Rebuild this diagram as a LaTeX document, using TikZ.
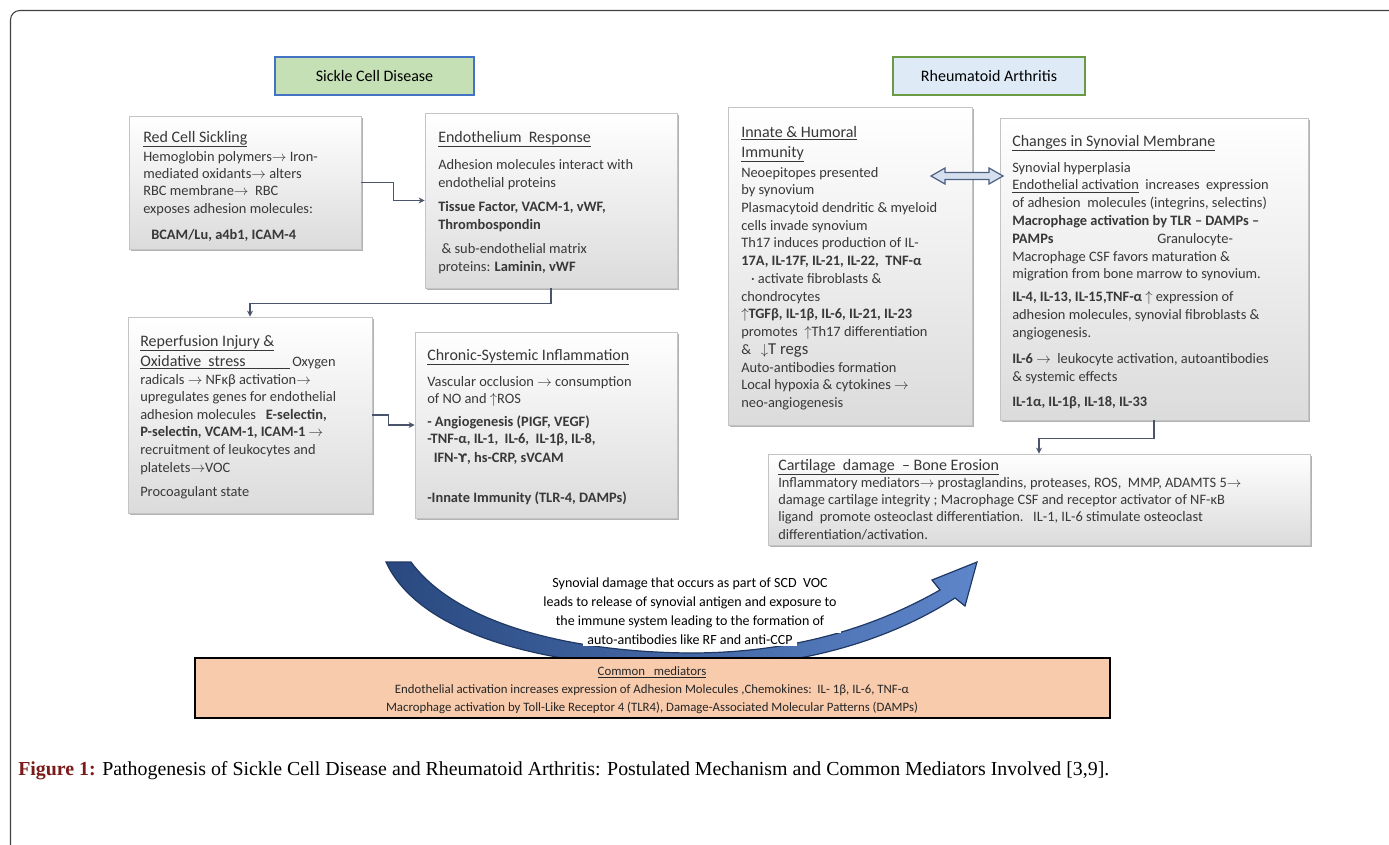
\documentclass[tikz,border=0pt]{standalone}
\usepackage{fontspec}
\setmainfont{Carlito}
\newfontfamily\capfont{Liberation Serif}
\newfontfamily\dejavu{DejaVu Sans}
\usetikzlibrary{fit,shadows,arrows.meta}
\definecolor{txt}{HTML}{383838}
\definecolor{boxline}{HTML}{C4C4C4}
\definecolor{conncol}{HTML}{4A556B}
\definecolor{greenfill}{HTML}{C5E0B4}
\definecolor{bluefill}{HTML}{DEEBF7}
\definecolor{blueline}{HTML}{4472C4}
\definecolor{greenline}{HTML}{6A9A44}
\definecolor{peach}{HTML}{F8CBAD}
\definecolor{arrowblue}{HTML}{4170C0}
\definecolor{arrowdark}{HTML}{1F3864}
\definecolor{dblfill}{HTML}{D6DFEE}
\definecolor{figred}{HTML}{7A1A1A}
\newcommand\bodyf{\fontsize{10.8pt}{13.2pt}\selectfont}
\newcommand\headf{\fontsize{12pt}{15pt}\selectfont}
\newcommand\ua{$\uparrow$}
\newcommand\da{$\downarrow$}
\newcommand\ra{$\rightarrow$}
\newcommand\lines[1]{\begin{tabular}[t]{@{}l@{}}#1\end{tabular}}
\newcommand\clines[1]{\begin{tabular}[t]{@{}c@{}}#1\end{tabular}}
\begin{document}
\begin{tikzpicture}[x=0.75pt,y=-0.75pt,
  box/.style={draw=boxline, line width=0.6pt, top color=white, bottom color=black!14,
    drop shadow={shadow xshift=1.8pt, shadow yshift=-1.8pt, fill=black!55, opacity=0.55},
    inner sep=0pt},
  tx/.style={anchor=base west, inner sep=0pt, text=txt, font=\bodyf},
  hd/.style={anchor=base west, inner sep=0pt, text=txt, font=\headf},
  conn/.style={draw=conncol, line width=0.8pt, -{Stealth[length=4.5pt,width=4.5pt]}},
  titlebox/.style={line width=1.3pt, inner sep=0pt, minimum height=28.5pt, font=\fontsize{12pt}{14pt}\selectfont, text=black}
]
\useasboundingbox (0,0) rectangle (1389,844);
\draw[black!75, line width=0.8pt, rounded corners=7pt] (10.5,10.5) rectangle (1410,870);

% title boxes
\node[titlebox, draw=blueline, fill=greenfill, minimum width=149.25pt] (sct) at (374.5,76) {Sickle Cell Disease};
\node[titlebox, draw=greenline, fill=bluefill, minimum width=144pt] (rat) at (989,76) {Rheumatoid Arthritis};

% boxes
\node[box, fit={(129,116) (361,249)}] (rcs) {};
\node[box, fit={(425,113) (677,288)}] (endo) {};
\node[box, fit={(128,317) (372,513)}] (rep) {};
\node[box, fit={(415,332) (677,518)}] (chr) {};
\node[box, fit={(728,107) (972,425)}] (inn) {};
\node[box, fit={(1000,118) (1308,420)}] (chg) {};
\node[box, fit={(768,454) (1310,545)}] (cart) {};

% connectors
\draw[conn] (rcs.east) -- ++(32,0) |- (endo.west);
\draw[conn] (endo.south) -- ++(0,15) -| (rep.north);
\draw[conn] (rep.east) -- ++(16,0) |- (chr.west);
\draw[conn] (chg.south) -- ++(0,18) -| (cart.north);

% double block arrow
\draw[draw=arrowdark!80, fill=dblfill, line width=0.9pt, line join=miter]
  (931,176) -- (945,168) -- (945,172.5) -- (989,172.5) -- (989,168) -- (1003,176)
  -- (989,184) -- (989,179.5) -- (945,179.5) -- (945,184) -- cycle;

% Red cell sickling
\node[hd] (rcsh) at (143,142) {\underline{Red Cell Sickling}};
\node[tx, font=\fontsize{10.8pt}{13pt}\selectfont] (rcsb) at (143,161) {\lines{Hemoglobin polymers\ra\ Iron-\\
mediated oxidants\ra\ alters\\
RBC membrane\ra\ \ RBC\\
exposes adhesion molecules:\\[6.5pt]
\hspace*{6pt}\textbf{BCAM/Lu, a4b1, ICAM-4}}};

% Endothelium response
\node[hd] (endoh) at (438,142) {\underline{Endothelium\ \ Response}};
\node[tx, font=\fontsize{10.8pt}{13.5pt}\selectfont] (endob) at (438,169) {\lines{Adhesion molecules interact with\\
endothelial proteins\\[4.5pt]
\textbf{Tissue Factor, VACM-1, vWF,}\\
\textbf{Thrombospondin}\\[4.5pt]
\ \& sub-endothelial matrix\\
proteins: \textbf{Laminin, vWF}}};

% Reperfusion
\node[hd] (reph) at (140,346) {\lines{\underline{Reperfusion Injury \&}\\
\underline{\makebox[112.5pt][l]{Oxidative\ \ stress}}}};
\node[tx] (repo) at (292,366) {Oxygen};
\node[tx] (repb) at (140,384) {\lines{radicals \ra\ NFκβ activation\ra\\
upregulates genes for endothelial\\
adhesion molecules\ \ \ \textbf{E-selectin,}\\
\textbf{P-selectin,\ VCAM-1, ICAM-1} \ra\\
recruitment of leukocytes and\\
platelets\ra VOC\\[4.8pt]
Procoagulant state}};

% Chronic systemic inflammation
\node[hd] (chrh) at (427,360) {\underline{Chronic-Systemic Inflammation}};
\node[tx, font=\fontsize{10.8pt}{12.8pt}\selectfont] (chrb) at (427,386) {\lines{Vascular occlusion \ra\ consumption\\
of NO and \ua ROS\\[4.5pt]
\textbf{- Angiogenesis\ (PIGF, VEGF)}\\
\textbf{-TNF-α, IL-1,\ \ IL-6,\ \ IL-1β, IL-8,}\\[2pt]
\textbf{\ \ IFN-{\dejavu\fontsize{9pt}{10pt}\selectfont ϒ}, hs-CRP, sVCAM}}};
\node[tx] (chri) at (427,502) {\textbf{-Innate Immunity (TLR-4, DAMPs)}};

% Innate & humoral
\node[hd] (innh) at (741,137) {\lines{\underline{Innate \& Humoral}\\
\underline{Immunity}}};
\node[tx, font=\fontsize{10.8pt}{13.3pt}\selectfont] (innb) at (741,177) {\lines{Neoepitopes presented\\
by synovium\\
Plasmacytoid dendritic \& myeloid\\
cells invade synovium\\
Th17 induces\ production of IL-\\
\textbf{17A, IL-17F, IL-21, IL-22,\ \ TNF-α}\\
\ \ \ · activate fibroblasts \&\\
chondrocytes\\
\textbf{\ua TGFβ, IL-1β, IL-6, IL-21, IL-23}\\
promotes\ \ \ua Th17 differentiation\\
\&\ \ \ \da{\fontsize{12.5pt}{13pt}\selectfont T regs}\\
Auto-antibodies formation\\
Local hypoxia \& cytokines \ra\\
neo-angiogenesis}};

% Changes in synovial membrane
\node[hd] (chgh) at (1012,146) {\underline{Changes\ in Synovial\ Membrane}};
\node[tx, font=\fontsize{10.8pt}{13.35pt}\selectfont] (chgb) at (1012,172) {\lines{Synovial hyperplasia\\
\underline{Endothelial activation}\ \ increases\ \ expression\\
of adhesion\ \ molecules (integrins, selectins)\\
\textbf{Macrophage activation by TLR – DAMPs –}\\
\makebox[108.75pt][l]{\textbf{PAMPs}}Granulocyte-\\
Macrophage CSF favors maturation \&\\
migration from bone marrow to synovium.\\[3.9pt]
\textbf{IL-4, IL-13, IL-15,TNF-α} \ua\ expression of\\
adhesion molecules, synovial fibroblasts \&\\
angiogenesis.\\[6pt]
\textbf{IL-6} \ra\ \ leukocyte activation, autoantibodies\\
\& systemic effects\\[6pt]
\textbf{IL-1α, IL-1β, IL-18, IL-33}}};

% Cartilage damage
\node[hd] (carth) at (778,470) {\underline{Cartilage\ \ damage\ \ – Bone Erosion}};
\node[tx, font=\fontsize{10.8pt}{13pt}\selectfont] (cartb) at (778,487) {\lines{Inflammatory mediators\ra\ prostaglandins, proteases, ROS,\ \ MMP, ADAMTS 5\ra\\
damage cartilage integrity ; Macrophage CSF and receptor activator of NF-κB\\
ligand\ \ promote osteoclast differentiation.\ \ \ IL-1, IL-6 stimulate osteoclast\\
differentiation/activation.}};

% curved arrow
\path[draw=arrowdark, line width=0.9pt, left color=arrowdark!70!arrowblue, right color=arrowblue!85!white, line join=miter]
  (386,562) -- (411,562)
  .. controls (455,622) and (565,652) .. (690,653)
  .. controls (800,653) and (880,624) .. (940,590)
  -- (932,580) -- (977,562) -- (965,606) -- (955,598)
  .. controls (890,640) and (800,668) .. (690,668)
  .. controls (550,668) and (420,636) .. (386,562) -- cycle;

\node[anchor=base, fill=white, inner xsep=3pt, inner ysep=2pt, text=black,
  font=\fontsize{10.5pt}{14.25pt}\selectfont] (mid) at (690,587) {\clines{Synovial damage that occurs as part of SCD\ \ VOC\\
leads to release of synovial antigen and exposure to\\
the immune system leading to the formation of}};
\node[anchor=base, fill=white, inner xsep=3pt, inner ysep=1.5pt, text=black,
  font=\fontsize{10.5pt}{14.25pt}\selectfont] (midl) at (690,644) {auto-antibodies like RF and anti-CCP};

% Common mediators
\node[fit={(195,658) (1110,718)}, inner sep=0pt, draw=black, line width=1.7pt, fill=peach] (com) {};
\node[anchor=base, inner sep=0pt, text=black!85, font=\fontsize{9.6pt}{13.5pt}\selectfont] (comt) at (652,675) {\clines{\underline{Common\ \ \ mediators}\\
Endothelial activation increases expression of Adhesion Molecules ,Chemokines:\ \ IL- 1β,\ IL-6, TNF-α\\
Macrophage activation by Toll-Like Receptor 4 (TLR4), Damage-Associated Molecular Patterns (DAMPs)}};

% caption
\node[anchor=base west, inner sep=0pt, font=\capfont\fontsize{14.9pt}{18pt}\selectfont] (cap) at (18,775)
  {{\bfseries\color{figred}Figure 1:} Pathogenesis of Sickle Cell Disease and Rheumatoid Arthritis: Postulated Mechanism and Common Mediators Involved [3,9].};
\end{tikzpicture}
\end{document}
